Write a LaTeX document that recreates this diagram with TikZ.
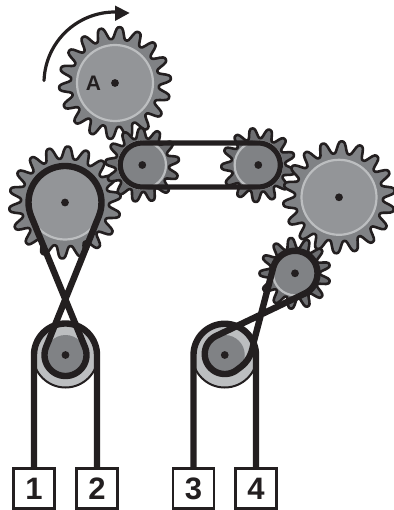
\documentclass[tikz,border=0pt]{standalone}
\usepackage{fontspec}
\setmainfont{Liberation Sans}
\definecolor{ink}{HTML}{231F20}
\definecolor{gearbig}{HTML}{808285}
\definecolor{discbig}{HTML}{939598}
\definecolor{gearsmall}{HTML}{6D6E71}
\definecolor{discsmall}{HTML}{808285}
\definecolor{ringc}{HTML}{BCBEC0}
\tikzset{
  gearline/.style={draw=ink,line width=2.6pt,line join=round},
  beltline/.style={draw=ink,line width=6.4pt,line join=round,line cap=round},
  ringline/.style={draw=ringc,line width=2.2pt},
  hub/.style={fill=ink},
  arcpts/.style={samples=40,variable=\t},
  labelbox/.style={draw=ink,line width=2.4pt,fill=white,minimum width=41pt,minimum height=40pt,inner sep=0pt,font=\bfseries\fontsize{31}{31}\selectfont,text=ink},
}
% x, y, teeth, root, tip, phase, gear colour, disc colour, disc radius
\newcommand{\mygear}[9]{%
  \fill[#7,gearline] plot[domain=-180:180,samples=#3*14,variable=\t]
    ({#1+((#4+#5)/2+(#5-#4)/2*(1.1*cos(#3*(\t-(#6)))-0.1*cos(3*#3*(\t-(#6)))))*cos(\t)},
     {#2+((#4+#5)/2+(#5-#4)/2*(1.1*cos(#3*(\t-(#6)))-0.1*cos(3*#3*(\t-(#6)))))*sin(\t)}) -- cycle;
  \fill[#8] (#1,#2) circle[radius=#9];
  \draw[ringline] (#1,#2) circle[radius=#9];
  \fill[hub] (#1,#2) circle[radius=3.9];
}
\begin{document}
\begin{tikzpicture}[x=1pt,y=-1pt]
\useasboundingbox (0,0) rectangle (393,510);
% gears
\mygear{115}{83}{18}{44}{56}{15}{gearbig}{discbig}{38}
\mygear{65}{202.5}{18}{44}{56}{13}{gearbig}{discbig}{37}
\mygear{142.3}{165}{13}{27}{37}{-9}{gearsmall}{discsmall}{23.7}
\mygear{258.3}{165}{13}{27}{37}{-72}{gearsmall}{discsmall}{23.7}
\mygear{339}{197.3}{18}{44}{56}{-87}{gearbig}{discbig}{37.5}
\mygear{295}{273.3}{13}{25}{35.5}{-14}{gearsmall}{discsmall}{22}
% pulleys
\draw[ink,line width=2pt,fill=ringc] (65.5,355) circle[radius=32.5];
\fill[discsmall] (65.5,355) circle[radius=20];
\fill[hub] (65.5,355) circle[radius=3.9];
\draw[ink,line width=2pt,fill=ringc] (224.75,355) circle[radius=32.5];
\fill[discsmall] (224.75,355) circle[radius=20];
\fill[hub] (224.75,355) circle[radius=3.9];
% upper belt
\draw[beltline,line width=5.2pt] plot[arcpts,domain=90:270] ({142.3+22*cos(\t)},{165+22*sin(\t)}) -- plot[arcpts,domain=-90:90] ({258.3+22*cos(\t)},{165+22*sin(\t)}) -- cycle;
% crossed belt, left
\draw[beltline] plot[arcpts,domain=158.1:381.9] ({65+36.5*cos(\t)},{202.5+36.5*sin(\t)}) -- plot[arcpts,domain=201.9:-21.9] ({65.5+21*cos(\t)},{355+21*sin(\t)}) -- cycle;
% crossed belt, right
\draw[beltline] plot[arcpts,domain=194.7:425] ({295+22.5*cos(\t)},{273.3+22.5*sin(\t)}) -- plot[arcpts,domain=243.4:50] ({224.75+20*cos(\t)},{354+20*sin(\t)}) .. controls (250,361) and (252,352) .. (254,341) -- cycle;
% boxes
\node[labelbox] (b1) at (34,488.5) {1};
\node[labelbox] (b2) at (97,488.5) {2};
\node[labelbox] (b3) at (193.5,488.5) {3};
\node[labelbox] (b4) at (256,488.5) {4};
% strands
\draw[beltline,line cap=butt] (b1.north) -- plot[arcpts,domain=180:360] ({65.5+31.5*cos(\t)},{355+31.5*sin(\t)}) -- (b2.north);
\draw[beltline,line cap=butt] (b3.north) -- plot[arcpts,domain=180:360] ({224.75+31.25*cos(\t)},{355+31.25*sin(\t)}) -- (b4.north);
% label and arrow
\node[font=\bfseries\fontsize{21}{21}\selectfont,text=ink,inner sep=0pt] (labelA) at (93.5,83) {A};
\coordinate (arrowtip) at (129.5,13);
\draw[ink,line width=3.2pt,line cap=round] plot[arcpts,domain=182:270] ({115+71*cos(\t)},{83+71*sin(\t)});
\fill[ink] (arrowtip) -- (115,5.5) -- (115,21) -- cycle;
\end{tikzpicture}
\end{document}
